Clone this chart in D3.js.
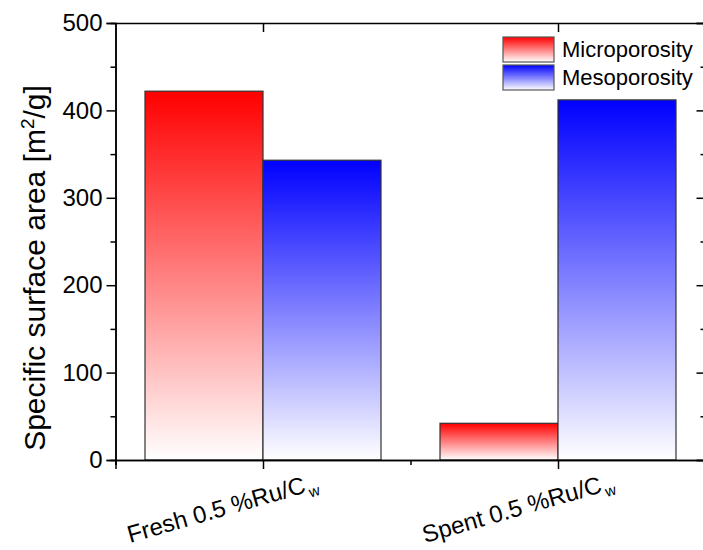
<!DOCTYPE html>
<html>
<head>
<meta charset="utf-8">
<script src="https://cdn.jsdelivr.net/npm/d3@7"></script>
<style>
body { margin: 0; background: #fff; }
text { font-family: "Liberation Sans", Arial, sans-serif; fill: #000; }
.axis path, .axis line { stroke: #000; stroke-width: 1.5px; }
.bar { stroke: #333; stroke-width: 1.2px; }
</style>
</head>
<body>
<div class="chart"></div>
<script>
// data
var samples = ["Fresh", "Spent"];
var sampleLabels = ["Fresh 0.5 %Ru/C", "Spent 0.5 %Ru/C"];
var series = ["Microporosity", "Mesoporosity"];
var micro = [422, 42];
var meso = [343, 412];
var yTicks = [0, 100, 200, 300, 400, 500];
var yMinor = [50, 150, 250, 350, 450];

var colors = { Microporosity: "#ff0000", Mesoporosity: "#0000ff" };

var width = 703, height = 550;
var margin = {top: 23, left: 115.5, bottom: 90, right: -2.5};

var svg = d3.select(".chart").append("svg")
  .attr("width", width)
  .attr("height", height);

var defs = svg.append("defs");
series.forEach(function(s){
  var g = defs.append("linearGradient")
    .attr("id", "grad-" + s)
    .attr("x1", 0).attr("y1", 0).attr("x2", 0).attr("y2", 1);
  g.append("stop").attr("offset", "0%").attr("stop-color", colors[s]);
  g.append("stop").attr("offset", "100%").attr("stop-color", "#ffffff");
});

// x as a numeric position: categories at 1 and 2, range 0.5 - 2.5
var x = d3.scaleLinear()
  .domain([0.5, 2.5])
  .range([margin.left, width - margin.right]);

var y = d3.scaleLinear()
  .domain([0, 500])
  .range([height - margin.bottom, margin.top]);

var data = [];
samples.forEach(function(s, i){
  data.push({pos: i + 1, series: "Microporosity", value: micro[i], side: -1});
  data.push({pos: i + 1, series: "Mesoporosity", value: meso[i], side: 0});
});

var barW = x(1.4) - x(1);

svg.selectAll(".bar")
  .data(data)
  .enter().append("rect")
    .attr("class", "bar")
    .attr("x", function(d){ return x(d.pos) + d.side * barW; })
    .attr("y", function(d){ return y(d.value); })
    .attr("width", barW)
    .attr("height", function(d){ return y(0) - y(d.value); })
    .attr("fill", function(d){ return "url(#grad-" + d.series + ")"; });

// left axis
svg.append("g")
  .attr("class", "axis")
  .attr("transform", "translate(" + x(0.5) + ",0)")
  .call(d3.axisLeft(y).tickValues(yMinor).tickSize(5).tickFormat(""));
svg.append("g")
  .attr("class", "axis")
  .attr("transform", "translate(" + x(0.5) + ",0)")
  .call(d3.axisLeft(y).tickValues(yTicks).tickSize(9).tickPadding(4))
  .selectAll("text").style("font-size", "24px");

// right axis (ticks inward)
svg.append("g")
  .attr("class", "axis")
  .attr("transform", "translate(" + x(2.5) + ",0)")
  .call(d3.axisLeft(y).tickValues(yMinor).tickSizeInner(5).tickSizeOuter(0).tickFormat(""));
svg.append("g")
  .attr("class", "axis")
  .attr("transform", "translate(" + x(2.5) + ",0)")
  .call(d3.axisLeft(y).tickValues(yTicks).tickSize(9).tickFormat(""));

// bottom axis
svg.append("g")
  .attr("class", "axis")
  .attr("transform", "translate(0," + y(0) + ")")
  .call(d3.axisBottom(x).tickValues([0.5, 1.5, 2.5]).tickSize(5).tickFormat(""));
svg.append("g")
  .attr("class", "axis")
  .attr("transform", "translate(0," + y(0) + ")")
  .call(d3.axisBottom(x).tickValues([1, 2]).tickSize(9).tickFormat(""));

// top axis (ticks inward)
svg.append("g")
  .attr("class", "axis")
  .attr("transform", "translate(0," + y(500) + ")")
  .call(d3.axisBottom(x).tickValues([1, 2]).tickSize(9).tickSizeOuter(0).tickFormat(""));

// rotated category labels
var xl = svg.selectAll(".xlabel")
  .data(sampleLabels)
  .enter().append("text")
    .attr("class", "xlabel")
    .attr("text-anchor", "start")
    .attr("transform", function(d, i){ return "translate(" + (x(i + 1) - 133) + ",543) rotate(-16)"; })
    .style("font-size", "24px");
xl.append("tspan").text(function(d){ return d; });
xl.append("tspan").attr("dy", 6).attr("dx", 2).style("font-size", "15px").text("w");

// y title
var yt = svg.append("text")
  .attr("text-anchor", "middle")
  .attr("transform", "translate(45,268) rotate(-90)")
  .style("font-size", "30px");
yt.append("tspan").text("Specific surface area [m");
yt.append("tspan").attr("dy", -11).style("font-size", "19px").text("2");
yt.append("tspan").attr("dy", 11).text("/g]");

// legend
var legend = svg.selectAll(".legend")
  .data(series)
  .enter().append("g")
    .attr("class", "legend")
    .attr("transform", function(d, i){ return "translate(503," + (37 + i * 28) + ")"; });
legend.append("rect")
  .attr("width", 51).attr("height", 25)
  .attr("fill", function(d){ return "url(#grad-" + d + ")"; })
  .attr("stroke", "#555").attr("stroke-width", 1.2);
legend.append("text")
  .attr("x", 59).attr("y", 20)
  .style("font-size", "22px")
  .text(function(d){ return d; });
</script>
</body>
</html>
